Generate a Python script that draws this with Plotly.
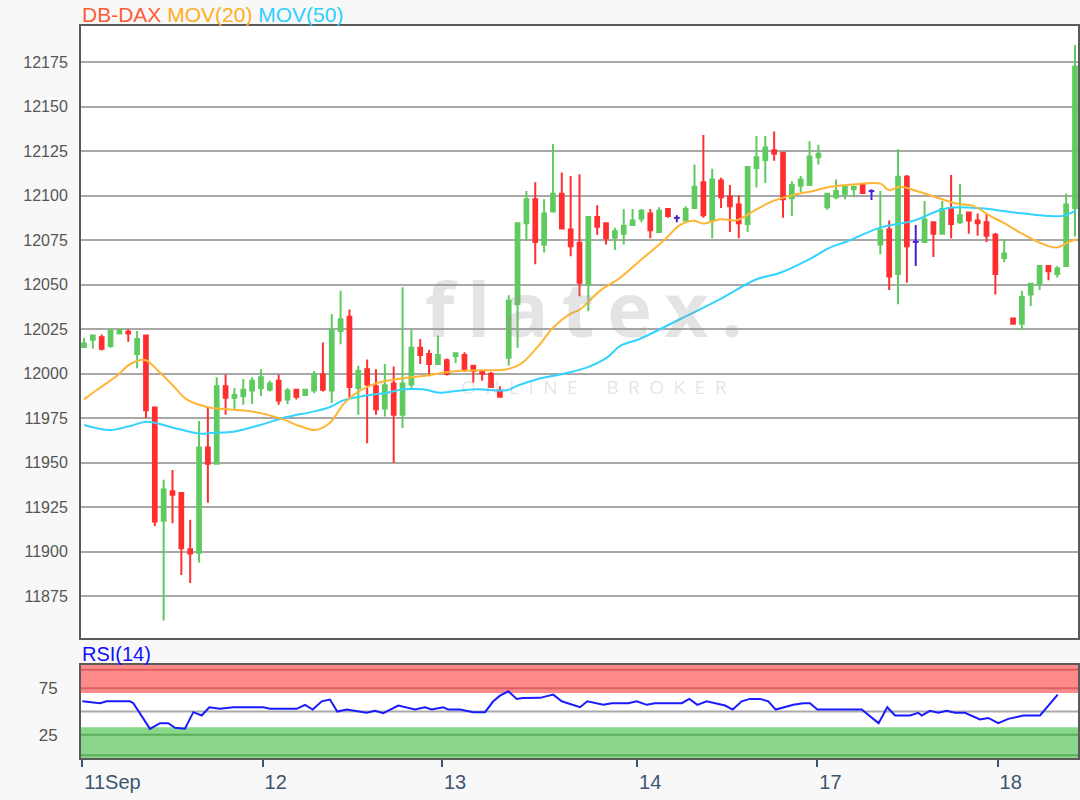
import plotly.graph_objects as go

# ---------------- data ----------------
opens = [12015, 12019, 12020.5, 12015.5, 12022.5, 12023.5, 12011, 12021.5, 11981, 11917.5,
         11934, 11933, 11901.5, 11899.5, 11958.5, 11949.5, 11993, 11986.5, 11987.5, 11990.5,
         11992, 11991, 11996, 11985.5, 11991, 11988, 11990.5, 11999.5, 11990.5, 12024,
         12032, 11992, 12002.5, 11993, 11980.5, 11994.5, 11977, 11994, 12014.5, 12011,
         12005.5, 12007.5, 12010, 12010.5, 12004.5, 12001, 12000, 11990.5, 12009, 12039,
         12084.5, 12098, 12072.5, 12091, 12101, 12081, 12073.5, 12050, 12088, 12084.5,
         12076.5, 12078.5, 12083.5, 12087, 12090, 12079.5, 12092.5, 12087.5, 12086, 12093,
         12107.5, 12086, 12108.5, 12099.5, 12095, 12084, 12115.5, 12120, 12125.5, 12124,
         12098.5, 12105.5, 12106, 12121.5, 12093.5, 12099, 12101, 12103.5, 12106, 12102.5,
         12072.5, 12081, 12056, 12110.5, 12074, 12074, 12085, 12078.5, 12092.5, 12085,
         12090.5, 12086, 12085, 12078, 12065, 12031, 12028, 12044.5, 12050.5, 12060.5,
         12056, 12060.5, 12093]
highs = [12020, 12022, 12022, 12025, 12025, 12025, 12024, 12022, 11981, 11940.5,
         11946, 11933, 11918, 11973.5, 11981, 11998, 11999.5, 11992, 11997, 11998,
         12002.5, 11996, 11999.5, 11992, 11991.5, 11991.5, 12001.5, 12017.5, 12033.5, 12046.5,
         12036, 12004.5, 12008, 12002.5, 12005.5, 12004, 12048.5, 12024.5, 12019.5, 12013.5,
         12021.5, 12008.5, 12011.5, 12012, 12005, 12002, 12001, 11993, 12044, 12084.5,
         12102.5, 12107.5, 12098, 12129, 12113, 12111, 12112, 12088.5, 12094.5, 12084.5,
         12082, 12092.5, 12092.5, 12092.5, 12092.5, 12093.5, 12092.5, 12089, 12094, 12117.5,
         12134, 12115, 12110, 12106, 12100, 12116, 12133.5, 12133.5, 12136, 12124.5,
         12108, 12111, 12130.5, 12128.5, 12101.5, 12109, 12105, 12105, 12106.5, 12103.5,
         12102.5, 12086, 12126, 12111.5, 12083.5, 12097, 12085.5, 12097, 12111.5, 12106.5,
         12090.5, 12090, 12089.5, 12079, 12075.5, 12031.5, 12046.5, 12051, 12060.5, 12060.5,
         12060.5, 12101, 12184.5]
lows = [12015, 12014, 12013, 12014.5, 12022, 12018, 12003, 11975, 11914.5, 11861.5,
        11916, 11887, 11882.5, 11894, 11927.5, 11949.5, 11977, 11980, 11982.5, 11983,
        11987.5, 11990, 11982.5, 11983, 11985.5, 11987.5, 11989, 11990, 11983.5, 12016.5,
        11986.5, 11977, 11961, 11977, 11976, 11950, 11969.5, 11992, 12005.5, 11998.5,
        12005, 11999, 12006, 12001, 11995, 11996, 11992.5, 11987, 12004.5, 12014.5,
        12074.5, 12061.5, 12068, 12090.5, 12081.5, 12066, 12043.5, 12035, 12078, 12072.5,
        12069.5, 12072.5, 12083, 12085, 12076, 12079, 12087.5, 12085, 12086, 12093,
        12087.5, 12076, 12093, 12079.5, 12076, 12079.5, 12104.5, 12107, 12119.5, 12087.5,
        12088.5, 12102, 12106, 12117.5, 12092, 12098, 12098, 12099, 12101.5, 12097.5,
        12067, 12047, 12039, 12051, 12060.5, 12074, 12065.5, 12078, 12076, 12084,
        12078.5, 12077.5, 12074, 12044.5, 12062.5, 12027.5, 12024.5, 12038, 12047, 12052.5,
        12054, 12060.5, 12077]
closes = [12017, 12021.5, 12014, 12024.5, 12024.5, 12022.5, 12019.5, 11979.5, 11917, 11935,
          11932, 11902, 11899, 11958.5, 11949.5, 11993, 11986.5, 11988, 11991, 11996,
          11998, 11994.5, 11985, 11990.5, 11987, 11991, 11999.5, 11991, 12024.5, 12030.5,
          11992.5, 12001.5, 11994, 11980, 11993.5, 11977, 11994.5, 12014.5, 12010.5, 12005.5,
          12010.5, 12000, 12011.5, 12002.5, 12001.5, 12000, 11992.5, 11987, 12041, 12084.5,
          12098, 12074, 12090, 12101, 12081.5, 12071.5, 12051, 12088, 12082.5, 12076,
          12080, 12083, 12086, 12091.5, 12080.5, 12091.5, 12088.5, 12087.5, 12092.5, 12105,
          12089, 12109, 12099, 12094, 12084.5, 12116, 12121.5, 12127, 12123.5, 12098,
          12106, 12109, 12122, 12123.5, 12101, 12102.5, 12105, 12105, 12101.5, 12102.5,
          12080.5, 12054.5, 12110.5, 12071.5, 12074, 12086.5, 12078.5, 12092.5, 12084, 12089,
          12086, 12084.5, 12077.5, 12056, 12067.5, 12028, 12043, 12050.5, 12060.5, 12057.5,
          12059, 12095, 12172.5]

# moving averages (position in candle units, value)
ma20_x = [0, 1.8, 3.7, 5.2, 6.9, 8.4, 10.1, 11.6, 13.9, 16.1, 19.1, 22.2, 24.4, 26.1, 27.8,
          29.3, 30.8, 32.7, 35.3, 38.3, 42.1, 45.1, 47.8, 49.3, 51.2, 53, 54.9, 56.1, 58.3,
          60.6, 62.8, 65.5, 67.4, 68.9, 70, 71.9, 73.8, 75.7, 77.9, 80.2, 82.4, 84.3, 87.3,
          90, 91, 92.2, 94.1, 96.4, 98.6, 100.5, 102.4, 103.9, 105.8, 108, 109.9, 111.4, 112.2]
ma20_y = [11985.6, 11992.1, 11998.7, 12005.3, 12007.7, 12001.5, 11993.1, 11985.6, 11981.3,
          11980, 11978.7, 11974.9, 11970.6, 11968.4, 11972.5, 11982.8, 11989.3, 11994, 11996.9,
          11998.7, 12001.5, 12001.9, 12002.5, 12005.3, 12014.6, 12025.8, 12033.4, 12036.2,
          12046.5, 12053.9, 12063.3, 12074.6, 12083.5, 12085.8, 12084.3, 12086.7, 12086.2,
          12091.4, 12097, 12100.4, 12102.6, 12104.9, 12106.4, 12106.7, 12103, 12104.9, 12102.6,
          12098.9, 12095.5, 12094.2, 12088.6, 12084.8, 12079.2, 12073.6, 12070.8, 12074.2, 12075.5]
ma50_x = [0, 2.9, 5.2, 7.1, 10.1, 13.1, 14.6, 16.9, 19.9, 22.9, 25.9, 27.8, 29.3, 31.6, 34.2,
          36.1, 38.3, 40.2, 42.1, 44.4, 47.8, 48.9, 51.2, 54.2, 56.8, 59.1, 60.6, 62.8, 67.4,
          71.9, 76, 78.7, 82, 84.3, 86.2, 90, 93.7, 97.5, 101.3, 105.1, 108.9, 110.7, 112]
ma50_y = [11971.2, 11968.4, 11970.6, 11973, 11969.7, 11966.3, 11966.9, 11967.4, 11971.2,
          11975.7, 11978.7, 11981.3, 11985, 11987.5, 11989.3, 11991.2, 11991.2, 11989.3,
          11990.3, 11991.2, 11990.7, 11993.1, 11996.9, 12000, 12003.4, 12009, 12015.6, 12019.5,
          12030.7, 12041.9, 12053, 12056.7, 12064.3, 12070.8, 12074.2, 12082, 12085.8, 12092.9,
          12092.9, 12090.5, 12088.6, 12088.6, 12091.4]

# RSI(14) (position on the RSI time scale, value)
rsi_x = [0, 2.03, 2.8, 5.48, 5.86, 7.77, 8.92, 9.87, 10.64, 11.79, 12.75, 13.71, 14.58, 15.81,
         17.34, 20.78, 21.55, 24.62, 25.57, 26.46, 27.49, 28.44, 29.28, 30.36, 32.66, 33.61,
         34.56, 36.28, 38.2, 39.35, 40.12, 41.45, 42.03, 43.37, 44.9, 46.24, 47.19, 47.96,
         48.91, 49.88, 50.57, 52.55, 54.08, 55.05, 57.15, 57.99, 59.82, 60.79, 62.69, 63.66,
         64.81, 65.76, 68.83, 69.7, 70.62, 71.69, 73.8, 74.68, 75.71, 76.67, 77.82, 78.77,
         79.62, 81.64, 82.79, 83.56, 84.4, 89.49, 91.43, 92.43, 93.32, 95.04, 95.99, 96.38,
         97.33, 98.29, 99.25, 100.2, 101.35, 103.07, 104.03, 105.18, 106.33, 108.05, 109.97,
         110.92, 112]
rsi_y = [61, 58.9, 61, 61, 58.9, 31.4, 37.5, 37.5, 32.5, 31.4, 49.3, 45.7, 54.6, 52.9,
         54.6, 54.6, 52.9, 52.9, 57.2, 52.1, 61, 62.9, 50, 52.1, 48.6, 50.7,
         48.3, 56.4, 52.1, 54.6, 52.1, 54.6, 52.1, 52.1, 49.3, 49.3, 61, 67.1,
         71.8, 63.6, 64.6, 64.7, 68.2, 61, 54.6, 61, 57.2, 59, 59, 61,
         57.2, 59, 59, 63.6, 57.2, 61, 56.4, 52.1, 61, 63.6, 63.6, 61,
         52.1, 57.2, 59, 59, 52.1, 52.1, 37.5, 54.6, 45.7, 45.7, 48.6, 45.7,
         50.7, 48.6, 50.7, 48.6, 48.6, 41.4, 43.1, 37.5, 42.1, 45.7, 45.7,
         56.4, 68.2]

day_ticks = [0, 20.7, 41.3, 63.7, 84.4, 105.1]
day_labels = ["11Sep", "12", "13", "14", "17", "18"]
price_ticks = [11875, 11900, 11925, 11950, 11975, 12000, 12025, 12050, 12075,
               12100, 12125, 12150, 12175]
rsi_ticks = [25, 75]
rsi_overbought = [70, 100]
rsi_oversold = [0, 33]
rsi_lines = [95, 75, 25, 3]

# ---------------- styling ----------------
GREEN = "#5fca5f"
RED = "#ff2f2f"
DOJI = "#4a1fd2"
ORANGE = "#ffb534"
CYAN = "#33d3ff"
GRID = "#a8a8a8"
FRAME = "#5a5a5a"
FONT = "Liberation Sans, Arial, sans-serif"

idx = list(range(len(opens)))
normal = [i for i in idx if opens[i] != closes[i]]
doji = [i for i in idx if opens[i] == closes[i]]

fig = go.Figure()

fig.add_trace(go.Scatter(x=ma50_x, y=ma50_y, mode="lines", line=dict(color=CYAN, width=2, shape="spline"),
                         xaxis="x", yaxis="y", hoverinfo="skip", showlegend=False))
fig.add_trace(go.Scatter(x=ma20_x, y=ma20_y, mode="lines", line=dict(color=ORANGE, width=2, shape="spline"),
                         xaxis="x", yaxis="y", hoverinfo="skip", showlegend=False))

fig.add_trace(go.Candlestick(
    x=normal,
    open=[opens[i] for i in normal], high=[highs[i] for i in normal],
    low=[lows[i] for i in normal], close=[closes[i] for i in normal],
    increasing=dict(line=dict(color=GREEN, width=2), fillcolor=GREEN),
    decreasing=dict(line=dict(color=RED, width=2), fillcolor=RED),
    whiskerwidth=0, xaxis="x", yaxis="y", showlegend=False))

# doji candles (open == close) drawn as crosses
dx, dy = [], []
for i in doji:
    dx += [i, i, None, i - 0.33, i + 0.33, None]
    dy += [lows[i], highs[i], None, opens[i], opens[i], None]
fig.add_trace(go.Scatter(x=dx, y=dy, mode="lines", line=dict(color=DOJI, width=2),
                         xaxis="x", yaxis="y", hoverinfo="skip", showlegend=False))

fig.add_trace(go.Scatter(x=rsi_x, y=rsi_y, mode="lines", line=dict(color="#1a1aff", width=2),
                         xaxis="x2", yaxis="y2", hoverinfo="skip", showlegend=False))

shapes = [
    dict(type="rect", xref="x2 domain", yref="y2", x0=0, x1=1,
         y0=rsi_overbought[0], y1=rsi_overbought[1], fillcolor="#ff8a8a", line_width=0, layer="below"),
    dict(type="rect", xref="x2 domain", yref="y2", x0=0, x1=1,
         y0=rsi_oversold[0], y1=rsi_oversold[1], fillcolor="#8ad68a", line_width=0, layer="below"),
    dict(type="line", xref="x2 domain", yref="y2", x0=0, x1=1, y0=50, y1=50,
         line=dict(color="#aaaaaa", width=2), layer="below"),
]
for v in rsi_lines:
    col = "#d86060" if v > 50 else "#5aae5a"
    shapes.append(dict(type="line", xref="x2 domain", yref="y2", x0=0, x1=1, y0=v, y1=v,
                       line=dict(color=col, width=2), layer="below"))

WM = "rgba(150,150,150,0.26)"
annotations = [
    dict(xref="paper", yref="paper", x=0, y=1, xanchor="left", yanchor="bottom", xshift=0, yshift=-1,
         showarrow=False, borderpad=0,
         text='<span style="color:#ff5a35">DB-DAX</span> <span style="color:#ffad22">MOV(20)</span> '
              '<span style="color:#2fcfff">MOV(50)</span>',
         font=dict(family=FONT, size=21)),
    dict(xref="paper", yref="paper", x=0, y=0.127, xanchor="left", yanchor="bottom", yshift=-1,
         showarrow=False, borderpad=0, text="RSI(14)", font=dict(family=FONT, size=20, color="#1010ff")),
    dict(xref="paper", yref="paper", x=0.505, y=0.616, xanchor="center", yanchor="middle",
         showarrow=False, borderpad=0,
         text="<b>f\u2009l\u2009a\u2009t\u2009e\u2009x\u2009.</b>",
         font=dict(family="Open Sans, sans-serif", size=76, color=WM)),
    dict(xref="paper", yref="paper", x=0.515, y=0.507, xanchor="center", yanchor="middle",
         showarrow=False, borderpad=0,
         text="\u2002".join("ONLINE") + "\u2002\u2002\u2002" + "\u2002".join("BROKER"),
         font=dict(family="Open Sans, sans-serif", size=19, color=WM)),
]

fig.update_layout(
    width=1080, height=800,
    margin=dict(l=81, r=2, t=26, b=42, autoexpand=False),
    paper_bgcolor="#f8f8f8", plot_bgcolor="#ffffff",
    showlegend=False, boxgap=0.4,
    shapes=shapes, annotations=annotations,
    xaxis=dict(domain=[0, 1], anchor="y", range=[-0.34, 112.34], showticklabels=False,
               showgrid=False, zeroline=False, showline=True, mirror=True, automargin=False,
               linecolor=FRAME, linewidth=2, rangeslider=dict(visible=False), fixedrange=True),
    yaxis=dict(domain=[0.1639, 1], anchor="x", range=[11851.6, 12195.2], tickvals=price_ticks,
               ticktext=[str(v) for v in price_ticks], automargin=False,
               showgrid=True, gridcolor=GRID, gridwidth=2, zeroline=False, showline=True, mirror=True,
               linecolor=FRAME, linewidth=2, ticks="", ticklabelstandoff=8,
               tickfont=dict(family=FONT, size=16, color="#555555")),
    xaxis2=dict(domain=[0, 1], anchor="y2", range=[-0.15, 114.33], tickvals=day_ticks,
                ticktext=day_labels, ticks="outside", ticklen=7, tickwidth=2, tickcolor="#3d5670",
                ticklabelposition="outside right", ticklabelstandoff=5, automargin=False,
                tickfont=dict(family=FONT, size=20, color="#3d5670"),
                showgrid=False, zeroline=False, showline=True, mirror=True,
                linecolor=FRAME, linewidth=2),
    yaxis2=dict(domain=[0, 0.127], anchor="x2", range=[0, 100], tickvals=rsi_ticks,
                ticktext=[str(v) for v in rsi_ticks], automargin=False,
                showgrid=False, zeroline=False, showline=True, mirror=True,
                linecolor=FRAME, linewidth=2, ticks="", ticklabelstandoff=18,
                tickfont=dict(family=FONT, size=17, color="#555555")),
)

fig.write_html("out.html", config={"responsive": False, "displayModeBar": False},
               post_script="document.body.style.margin='0px';document.body.style.overflow='hidden';")
